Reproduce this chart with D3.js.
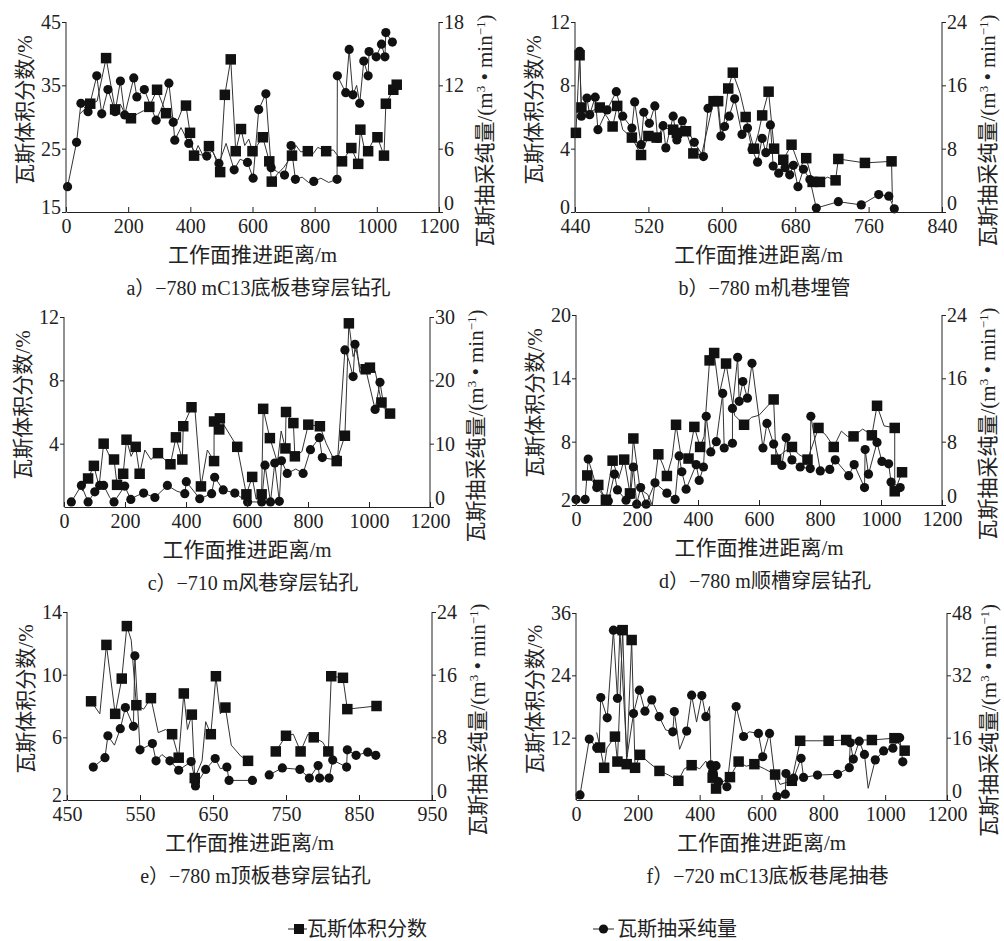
<!DOCTYPE html>
<html lang="zh-CN">
<head>
<meta charset="utf-8">
<script src="https://cdn.jsdelivr.net/npm/d3@7"></script>
<style>
  body { margin: 0; background: #fff; }
  svg text { font-family: "Liberation Serif", "Noto Sans CJK SC", serif; fill: #222; }
  .cjk { font-family: "Noto Sans CJK SC", sans-serif; }
</style>
</head>
<body>
<div id="chart"></div>
<script>
// ---- data: [distance m, value, marker shown (1) or not (0)]; null value = break in line
const aConc = [[45,30.5,0],[78,32.1,1],[100,32.5,0],[129,39.3,1],[158,31.2,1],[175,32,0],[190,30.5,0],[209,29.8,1],[230,30.5,0],[250,31,0],[268,31.6,1],[293,34.3,1],[322,30.6,1],[340,30,0],[360,29.5,0],[372,31,0],[386,31.8,1],[399,27.5,1],[412,23.9,1],[425,25.5,0],[440,24,0],[460,25.4,1],[475,24.3,0],[496,21.3,1],[511,33.5,1],[530,39.1,1],[546,24.6,1],[563,28.1,1],[575,25.5,0],[588,26.5,0],[600,24.6,1],[615,25.5,0],[633,26.8,1],[654,23.0,1],[662,19.8,1],[680,21,0],[700,22,0],[727,23.9,1],[740,25.5,0],[755,24.5,0],[778,24.6,1],[795,24.2,0],[810,25.2,0],[837,24.6,1],[860,24.8,0],[888,23.0,1],[918,25.1,1],[940,22.6,1],[947,28.0,1],[960,25,0],[972,24.6,1],[985,26,0],[1002,26.8,1],[1023,23.9,1],[1029,32.1,1],[1053,34.3,1],[1064,35.1,1]];
const aFlow = [[5,2.4,1],[34,6.6,1],[48,10.3,1],[71,9.5,1],[99,12.9,1],[115,9.3,1],[135,11.6,1],[158,9.5,1],[175,12.4,1],[189,9.2,1],[218,12.7,1],[228,10.9,1],[252,11.6,1],[290,8.7,1],[310,10,0],[331,12.2,1],[345,8.5,1],[350,6.8,1],[370,8,0],[395,6.5,1],[420,5.5,0],[453,5.3,1],[470,5.8,0],[492,4.6,1],[515,6.5,0],[541,4.0,1],[560,5,0],[584,4.7,1],[602,3.2,1],[620,9.7,1],[643,11.2,1],[660,4.2,1],[680,3.8,0],[703,3.5,1],[724,6.3,1],[738,3.1,1],[760,3.3,0],[780,2.8,0],[797,2.9,1],[820,3.2,0],[845,2.8,0],[872,3.1,1],[873,12.9,1],[900,11.3,1],[911,15.4,1],[923,11.1,1],[935,12,0],[945,10.3,1],[958,14.3,1],[972,12.9,1],[975,15.2,1],[998,14.7,1],[1015,15.9,1],[1026,14.7,1],[1029,17.0,1],[1050,16.1,1]];

const bConc = [[441,5.0,1],[445,9.9,1],[447,6.6,1],[455,6.3,0],[467,6.6,1],[475,6.0,0],[481,5.4,1],[486,6.7,1],[492,5.2,0],[502,4.7,1],[512,3.6,1],[520,4.8,1],[529,4.7,1],[538,5.3,0],[547,5.2,1],[551,5.0,1],[561,5.1,1],[569,3.7,1],[578,3.6,0],[591,7.0,1],[596,7.0,1],[600,4.5,0],[607,7.8,1],[612,8.8,1],[620,7.5,0],[626,6.0,1],[635,4.0,1],[640,5.0,0],[644,6.1,1],[651,7.6,1],[657,4.0,1],[667,3.3,1],[676,4.25,1],[685,2.8,0],[692,3.4,1],[699,1.9,1],[707,1.9,1],[715,2.2,0],[724,2.0,1],[727,3.35,1],[756,3.1,1],[785,3.2,1],[786,0.6,0]];
const bFlow = [[445,20.3,1],[447,12.1,1],[453,14.4,1],[456,12.3,1],[462,14.5,1],[465,10.4,1],[475,12.9,1],[485,15.2,1],[492,12.1,1],[502,10.6,1],[505,13.9,1],[512,8.5,1],[515,12.6,1],[521,11.2,1],[527,13.4,1],[530,9.3,1],[536,10.9,1],[539,8.1,1],[547,12.1,1],[551,9.1,1],[557,11.5,1],[570,8.8,1],[580,7.0,1],[585,13.1,1],[595,14.0,1],[599,9.6,1],[603,10.8,1],[608,12.1,1],[614,14.3,1],[622,9.8,1],[628,10.6,1],[633,7.9,1],[639,6.3,1],[644,9.3,1],[648,7.5,1],[653,11.0,1],[656,5.8,1],[662,4.9,1],[669,5.6,1],[674,4.7,1],[678,5.9,1],[683,3.2,1],[689,5.4,1],[696,4.1,1],[703,0.5,1],[727,1.3,1],[752,0.9,1],[771,2.2,1],[782,2.0,1],[788,0.4,1]];

const cConc = [[60,1.0,0],[79,1.8,1],[98,2.6,1],[115,1.3,0],[130,4.0,1],[150,3.2,0],[164,3.0,1],[174,1.4,1],[194,2.1,1],[205,4.25,1],[220,3.2,0],[235,3.8,1],[248,2.1,1],[265,3.6,0],[285,3.0,0],[308,3.4,1],[330,3.0,0],[349,2.7,1],[367,4.4,1],[388,3.0,1],[391,5.1,1],[418,6.3,1],[430,6.0,0],[449,1.3,1],[470,3.6,0],[492,2.9,1],[492,5.4,1],[509,4.9,1],[511,5.6,1],[568,3.8,1],[598,0.8,1],[617,1.9,1],[630,0.5,0],[648,0.8,1],[653,6.2,1],[675,4.35,1],[700,2.8,0],[712,4.8,0],[726,3.7,1],[728,6.0,1],[752,5.3,1],[757,3.2,1],[780,3.5,0],[801,5.2,1],[839,5.1,1],[860,4.0,0],[880,3.2,0],[894,2.9,1],[921,4.5,1],[934,11.6,1],[948,9.5,0],[960,10.1,0],[970,8.5,0],[989,8.7,1],[1003,8.8,1],[1020,8.6,0],[1041,6.6,1],[1069,5.9,1]];
const cFlow = [[24,0.8,1],[57,3.4,1],[79,0.8,1],[101,2.4,1],[117,3.4,1],[130,3.4,1],[150,1.5,0],[164,0.8,1],[199,3.3,1],[219,1.2,1],[240,1.8,0],[261,2.2,1],[298,1.5,1],[339,3.4,1],[370,2.5,0],[396,2.1,1],[401,4.0,1],[445,1.3,1],[484,2.1,1],[494,4.7,1],[522,2.7,1],[560,2.2,1],[602,0.8,1],[648,0.8,1],[659,6.6,1],[677,0.8,1],[691,6.95,1],[706,0.9,1],[713,7.3,1],[732,5.3,1],[760,6.0,0],[784,5.3,1],[808,9.05,1],[837,10.95,1],[847,7.8,1],[870,7.6,0],[897,7.5,1],[921,24.8,1],[935,23,0],[948,20.6,1],[954,25.7,1],[970,22,0],[989,21.8,1],[1020,15.4,1],[1036,19.7,1],[1050,15.5,0]];

const dConc = [[37,4.8,1],[55,4.2,0],[73,3.9,1],[98,2.5,1],[120,6.2,1],[140,4.5,0],[158,6.3,1],[177,3.1,1],[188,8.3,1],[210,3.5,0],[235,3.0,0],[250,2.0,0],[270,6.8,1],[285,5.8,0],[298,4.75,1],[315,6.5,0],[328,9.6,1],[345,6.5,0],[369,6.4,1],[388,9.4,1],[407,7.5,1],[420,8.5,0],[438,15.7,1],[453,16.4,1],[470,12.5,0],[492,15.4,1],[510,12.2,0],[520,10.5,0],[551,9.6,1],[575,10.3,0],[600,10.5,0],[648,12.0,1],[656,6.3,1],[680,7,0],[708,7.5,1],[730,6.8,0],[759,6.3,1],[795,9.3,1],[820,8.6,0],[845,7.5,1],[870,9.0,0],[890,8.5,0],[910,8.5,1],[940,9.2,0],[970,8.6,1],[987,11.4,1],[1010,9.5,0],[1045,9.3,1],[1045,3.3,1],[1069,5.1,1]];
const dFlow = [[0,0.7,1],[30,0.7,1],[40,5.8,1],[68,2.2,1],[106,0.5,1],[126,3.9,1],[136,1.9,1],[164,0.6,1],[179,1.3,1],[188,4.8,1],[199,0.1,1],[212,2.2,1],[230,0.1,1],[259,2.8,1],[298,1.5,1],[325,0.7,1],[338,6.2,1],[347,4.2,1],[361,2.0,1],[394,5.1,1],[404,3.1,1],[418,4.8,1],[427,11.2,1],[442,6.7,1],[460,8.0,1],[481,14.1,1],[486,7.2,1],[513,7.8,1],[513,12.2,1],[530,18.65,1],[535,13.1,1],[547,15.6,1],[562,13.5,1],[577,17.9,1],[590,14,0],[613,7.2,1],[626,10.3,1],[648,7.7,1],[675,5.0,1],[689,8.5,1],[708,5.7,1],[735,4.8,1],[768,4.6,1],[770,11.2,1],[801,4.3,1],[832,4.5,1],[850,5.7,1],[894,3.7,1],[912,5.1,1],[946,2.2,1],[948,7.0,1],[959,3.9,1],[987,7.9,1],[1003,5.5,1],[1025,5.2,1],[1033,2.9,1],[1063,2.2,1]];

const eConc = [[483,8.3,1],[495,7.5,0],[504,11.9,1],[516,7.5,1],[525,9.75,1],[532,13.1,1],[538,12.2,0],[545,8.05,1],[555,7.8,0],[565,8.5,1],[575,6.3,0],[585,6.5,0],[594,6.2,1],[603,4.7,1],[610,8.8,1],[615,6.5,0],[621,7.45,1],[625,3.4,1],[635,4.5,0],[640,7.0,0],[647,6.2,1],[654,9.9,1],[660,7.5,0],[667,7.9,1],[675,5.5,0],[688,4.8,0],[698,4.5,1],[715,null,0],[736,5.1,1],[750,6.1,1],[760,6.2,0],[770,5.1,1],[780,6.2,0],[788,6.0,1],[800,5.7,0],[808,5.1,1],[812,9.9,1],[828,9.8,1],[834,7.8,1],[874,8.0,1]];
const eFlow = [[486,4.2,1],[502,5.4,1],[506,8.2,1],[515,7.0,0],[523,9.1,1],[530,11.8,1],[541,9.4,1],[543,18.4,1],[550,6.4,1],[567,7.2,1],[572,5.0,1],[580,5.8,0],[591,5.0,1],[603,3.8,1],[620,4.9,1],[626,2.3,1],[626,1.8,1],[640,3.9,1],[653,5.3,1],[660,4.0,0],[669,4.2,1],[672,2.5,1],[704,2.5,1],[715,null,0],[727,3.2,1],[745,4.1,1],[769,3.9,1],[782,2.8,1],[794,4.4,1],[796,2.8,1],[809,2.8,1],[814,5.1,1],[833,4.2,1],[834,6.4,1],[846,5.7,1],[862,6.1,1],[873,5.7,1]];

const fConc = [[67,13,0],[78,10.1,1],[91,6.2,1],[100,10,0],[126,12.2,1],[134,7.4,1],[151,32.7,1],[164,6.9,1],[180,30.8,1],[191,6.2,1],[207,8.7,1],[240,7.0,0],[270,5.6,1],[300,4.8,0],[331,3.7,1],[350,6,0],[374,6.7,1],[400,6.0,0],[420,7.5,0],[442,4.3,1],[453,2.2,1],[475,3.5,0],[498,4.4,1],[526,7.4,1],[550,6.5,0],[577,6.9,1],[610,6.0,0],[644,4.9,1],[660,3.0,0],[698,3.7,1],[725,11.4,1],[817,11.4,1],[874,11.55,1],[957,11.55,1],[1030,11.9,1],[1063,9.5,1]];
const fFlow = [[13,1.3,1],[43,15.65,1],[67,13.4,1],[75,14,0],[80,26.3,1],[101,21.1,1],[121,43.6,1],[134,26.1,1],[142,43.6,1],[165,11,0],[186,22.2,1],[205,28.2,1],[223,22.8,1],[245,25.7,1],[269,21.4,1],[290,18,0],[313,17.5,1],[318,22.7,1],[335,13,0],[358,17.7,1],[374,26.9,1],[390,20,0],[407,26.8,1],[420,21.4,1],[432,24,0],[436,9.0,1],[442,7.3,1],[453,8.8,1],[461,4.7,1],[488,3.4,1],[518,24.0,1],[542,16.3,1],[560,17.5,0],[590,17.1,1],[604,11.1,1],[626,17.1,1],[650,0.9,1],[677,1.5,1],[679,6.8,1],[704,5.6,1],[728,10.7,1],[736,5.8,1],[781,6.4,1],[846,6.6,1],[884,8.3,1],[887,14.7,1],[897,10.5,1],[916,15.1,1],[933,11.7,1],[945,3,0],[968,10.3,1],[995,12.6,1],[1025,13.3,1],[1047,16.0,1],[1057,9.8,1]];

// ---- ticks / domains
const xTicks0 = [0, 200, 400, 600, 800, 1000, 1200];
const bXTicks = [440, 520, 600, 680, 760, 840];
const eXTicks = [450, 550, 650, 750, 850, 950];
const aLeftTicks = [15, 25, 35, 45],  aRightTicks = [0, 6, 12, 18];
const bLeftTicks = [0, 4, 8, 12],     bRightTicks = [0, 8, 16, 24];
const cLeftTicks = [4, 8, 12],        cRightTicks = [0, 10, 20, 30];
const dLeftTicks = [2, 8, 14, 20],    dRightTicks = [0, 8, 16, 24];
const eLeftTicks = [2, 6, 10, 14],    eRightTicks = [0, 8, 16, 24];
const fLeftTicks = [12, 24, 36],      fRightTicks = [0, 16, 32, 48];

const panelTitles = ["a）−780 mC13底板巷穿层钻孔", "b）−780 m机巷埋管", "c）−710 m风巷穿层钻孔",
                     "d）−780 m顺槽穿层钻孔", "e）−780 m顶板巷穿层钻孔", "f）−720 mC13底板巷尾抽巷"];
const xTitle = "工作面推进距离/m";
const leftTitle = "瓦斯体积分数/%";
const rightTitleCjk = "瓦斯抽采纯量";
const seriesNames = ["瓦斯体积分数", "瓦斯抽采纯量"];

// ---- panel layout (pixel boxes)
const panels = [
  { x0: 66,  x1: 439, top: 22,  bot: 212, xd: [0, 1200],  xt: xTicks0, ld: [15, 45], lt: aLeftTicks, rd: [0, 18], rt: aRightTicks, conc: aConc, flow: aFlow },
  { x0: 575, x1: 942, top: 22,  bot: 212, xd: [440, 840], xt: bXTicks, ld: [0, 12],  lt: bLeftTicks, rd: [0, 24], rt: bRightTicks, conc: bConc, flow: bFlow },
  { x0: 64,  x1: 430, top: 317, bot: 507, xd: [0, 1200],  xt: xTicks0, ld: [0, 12],  lt: cLeftTicks, rd: [0, 30], rt: cRightTicks, conc: cConc, flow: cFlow },
  { x0: 576, x1: 942, top: 315, bot: 505, xd: [0, 1200],  xt: xTicks0, ld: [2, 20],  lt: dLeftTicks, rd: [0, 24], rt: dRightTicks, conc: dConc, flow: dFlow },
  { x0: 67,  x1: 432, top: 612, bot: 800, xd: [450, 950], xt: eXTicks, ld: [2, 14],  lt: eLeftTicks, rd: [0, 24], rt: eRightTicks, conc: eConc, flow: eFlow },
  { x0: 576, x1: 947, top: 613, bot: 800, xd: [0, 1200],  xt: xTicks0, ld: [0, 36],  lt: fLeftTicks, rd: [0, 48], rt: fRightTicks, conc: fConc, flow: fFlow }
];

const W = 1004, H = 941;
const svg = d3.select("#chart").append("svg").attr("width", W).attr("height", H);
const ink = "#222";

function drawSquares(g, pts, x, y, s) {
  g.selectAll(null).data(pts.filter(d => d[2] && d[1] != null)).enter().append("rect")
    .attr("x", d => x(d[0]) - s / 2).attr("y", d => y(d[1]) - s / 2)
    .attr("width", s).attr("height", s).attr("fill", "#111");
}
function drawCircles(g, pts, x, y, r) {
  g.selectAll(null).data(pts.filter(d => d[2] && d[1] != null)).enter().append("circle")
    .attr("cx", d => x(d[0])).attr("cy", d => y(d[1])).attr("r", r).attr("fill", "#111");
}

panels.forEach((p, i) => {
  const g = svg.append("g");
  const x = d3.scaleLinear().domain(p.xd).range([p.x0, p.x1]);
  const yL = d3.scaleLinear().domain(p.ld).range([p.bot, p.top]);
  const yR = d3.scaleLinear().domain(p.rd).range([p.bot, p.top]);

  const lineL = d3.line().defined(d => d[1] != null).x(d => x(d[0])).y(d => yL(d[1]));
  const lineR = d3.line().defined(d => d[1] != null).x(d => x(d[0])).y(d => yR(d[1]));

  g.append("path").attr("d", lineL(p.conc)).attr("fill", "none").attr("stroke", "#333").attr("stroke-width", 1);
  g.append("path").attr("d", lineR(p.flow)).attr("fill", "none").attr("stroke", "#333").attr("stroke-width", 1);
  drawSquares(g, p.conc, x, yL, 10.5);
  drawCircles(g, p.flow, x, yR, 4.6);

  // axes
  const ax = g.append("g").attr("transform", `translate(0,${p.bot})`)
    .call(d3.axisBottom(x).tickValues(p.xt).tickSizeInner(-5).tickSizeOuter(0).tickPadding(7).tickFormat(d3.format("d")));
  const al = g.append("g").attr("transform", `translate(${p.x0},0)`)
    .call(d3.axisLeft(yL).tickValues(p.lt).tickSizeInner(4).tickSizeOuter(0).tickPadding(1).tickFormat(d3.format("d")));
  const ar = g.append("g").attr("transform", `translate(${p.x1},0)`)
    .call(d3.axisRight(yR).tickValues(p.rt).tickSizeInner(4).tickSizeOuter(0).tickPadding(1).tickFormat(d3.format("d")));
  [ax, al, ar].forEach(a => {
    a.selectAll("path, line").attr("stroke", ink);
    a.selectAll("text").attr("font-size", 20).attr("fill", ink).style("font-family", '"Liberation Serif", serif');
  });
  al.select(".domain").attr("d", `M0,${p.top}V${p.bot}`);
  ar.select(".domain").attr("d", `M0,${p.top}V${p.bot}`);
  // bottom labels of the side axes sit a bit higher so they clear the x labels
  al.selectAll(".tick text").filter(d => d === p.ld[0]).attr("dy", "0.05em");
  ar.selectAll(".tick text").filter(d => d === p.rd[0]).attr("dy", "-0.12em");

  const cx = (p.x0 + p.x1) / 2, cy = (p.top + p.bot) / 2;
  g.append("text").attr("x", cx).attr("y", p.bot + 50).attr("text-anchor", "middle").attr("font-size", 21).text(xTitle);
  g.append("text").attr("x", cx + 6).attr("y", p.bot + 83).attr("text-anchor", "middle").attr("font-size", 20).text(panelTitles[i]);

  g.append("text").attr("transform", `translate(${p.x0 - 34},${cy - 7}) rotate(-90)`)
    .attr("text-anchor", "middle").attr("font-size", 21).text(leftTitle);

  const rx = Math.min(p.x1 + 53, W - 8);
  const rt = g.append("text").attr("transform", `translate(${rx},${cy + 14}) rotate(-90)`)
    .attr("text-anchor", "middle").attr("font-size", 21);
  rt.append("tspan").attr("class", "cjk").attr("fill", ink).text(rightTitleCjk);
  rt.append("tspan").text("/(m");
  rt.append("tspan").attr("baseline-shift", "super").attr("font-size", 13).text("3");
  rt.append("tspan").text(" • min");
  rt.append("tspan").attr("baseline-shift", "super").attr("font-size", 13).text("−1");
  rt.append("tspan").text(")");
});

// ---- legend
const lg = svg.append("g");
const ly = 929;
lg.append("line").attr("x1", 288).attr("x2", 307).attr("y1", ly).attr("y2", ly).attr("stroke", ink);
lg.append("rect").attr("x", 294).attr("y", ly - 5).attr("width", 10).attr("height", 10).attr("fill", "#111");
lg.append("text").attr("x", 307).attr("y", ly + 7).attr("font-size", 20).text(seriesNames[0]);
lg.append("line").attr("x1", 593).attr("x2", 614).attr("y1", ly).attr("y2", ly).attr("stroke", ink);
lg.append("circle").attr("cx", 603.5).attr("cy", ly).attr("r", 4.6).attr("fill", "#111");
lg.append("text").attr("x", 617).attr("y", ly + 7).attr("font-size", 20).text(seriesNames[1]);
</script>
</body>
</html>
